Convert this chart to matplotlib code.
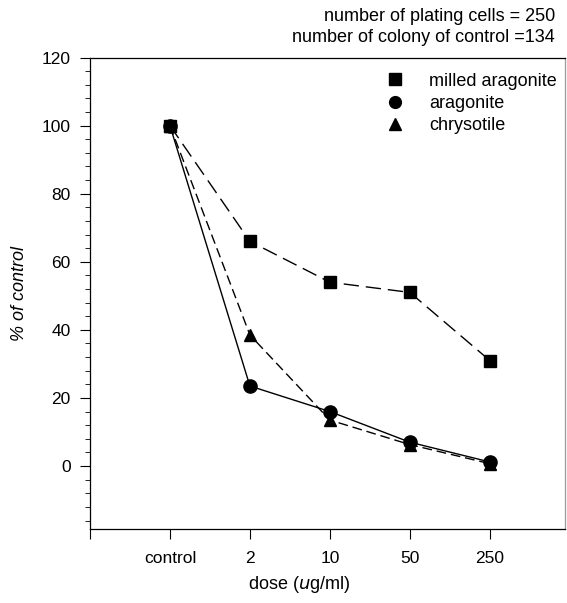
import matplotlib
matplotlib.use("Agg")
import matplotlib.pyplot as plt
from matplotlib.ticker import MultipleLocator
from matplotlib.lines import Line2D

plt.rcParams.update({
    "font.family": ["Liberation Sans", "DejaVu Sans"],
    "font.size": 13,
})

doses = ["control", "2", "10", "50", "250"]
milled_aragonite = [100, 66, 54, 51, 31]
aragonite = [100, 23.5, 16, 7, 1.2]
chrysotile = [100, 38.5, 13.5, 6.3, 0.7]

x = list(range(1, len(doses) + 1))

fig = plt.figure(figsize=(5.67, 6.03), dpi=100)
ax = fig.add_axes([0.1587, 0.1227, 0.8377, 0.7819])

ax.plot(x, milled_aragonite, color="black", lw=1.0, dashes=(11, 5),
        marker="s", markersize=8.5, label="milled aragonite")
ax.plot(x, aragonite, color="black", lw=1.0, linestyle="-",
        marker="o", markersize=9.5, label="aragonite")
ax.plot(x, chrysotile, color="black", lw=1.0, dashes=(7, 3.5),
        marker="^", markersize=9, label="chrysotile")

ax.set_xlim(0, 5.94)
ax.set_ylim(-18.5, 119.7)
ax.set_xticks([0] + x)
ax.set_xticklabels([""] + doses)
ax.set_yticks([0, 20, 40, 60, 80, 100, 120])
ax.yaxis.set_minor_locator(MultipleLocator(4))
ax.tick_params(axis="both", direction="out", length=7, width=0.8, labelsize=12.5)
ax.tick_params(axis="y", which="minor", direction="out", length=3.5, width=0.6)
ax.tick_params(axis="x", pad=9)
ax.tick_params(axis="y", pad=7)
for s in ax.spines.values():
    s.set_linewidth(0.9)
ax.spines["right"].set_color("#999999")

ax.set_xlabel("dose ($\\it{u}$g/ml)", fontsize=13)
ax.xaxis.set_label_coords(0.44, -0.095)
ax.set_ylabel("% of control", fontsize=13, style="italic")
ax.yaxis.set_label_coords(-0.13, 0.5)

handles, labels = ax.get_legend_handles_labels()
h2 = [Line2D([], [], color="black", linestyle="none", marker=h.get_marker(),
             markersize=8.5) for h in handles]
ax.legend(h2, labels, loc="upper left", bbox_to_anchor=(0.623, 0.968),
          frameon=False, handlelength=1.0, handletextpad=1.4,
          labelspacing=0.3, borderpad=0, borderaxespad=0, fontsize=13)

fig.text(0.979, 0.973, "number of plating cells = 250", ha="right", va="center", fontsize=13)
fig.text(0.979, 0.937, "number of colony of control =134", ha="right", va="center", fontsize=13)

fig.savefig("out.png", dpi=100)
